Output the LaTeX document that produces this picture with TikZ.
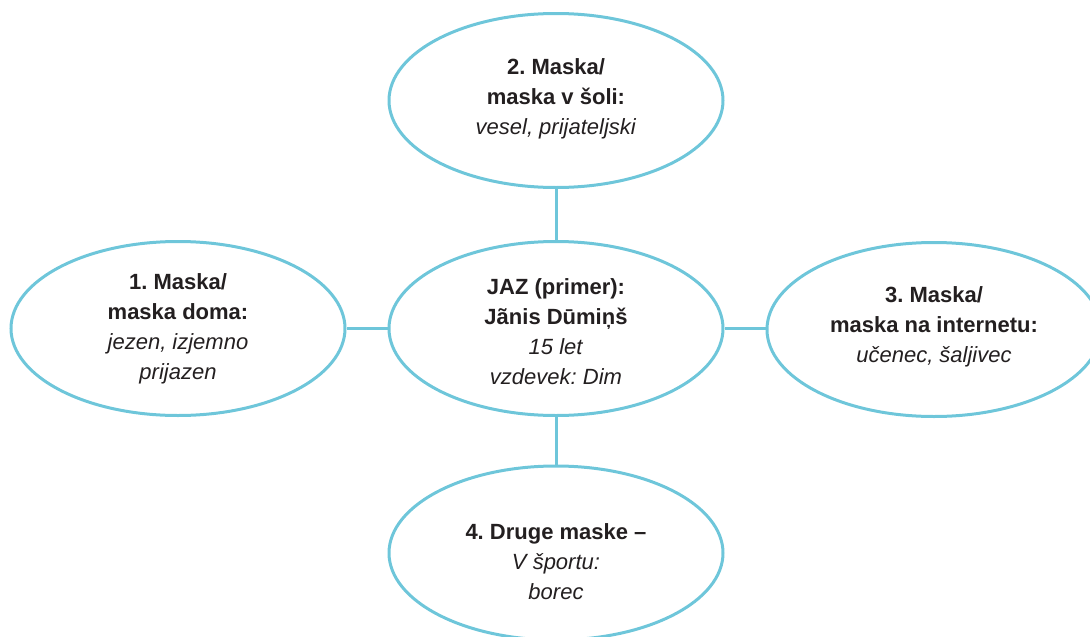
\documentclass[tikz,border=0pt]{standalone}
\usepackage{fontspec}
\setmainfont{Liberation Sans}
\usetikzlibrary{shapes.geometric}
\definecolor{ring}{RGB}{110,198,218}
\definecolor{ink}{RGB}{35,31,32}
\frenchspacing
\tikzset{
  bubble/.style={ellipse, draw=ring, line width=3pt, minimum width=334pt, minimum height=174pt, inner sep=0pt},
  conn/.style={draw=ring, line width=3pt},
  txt/.style={align=center, text=ink, font=\fontsize{22}{30}\selectfont\frenchspacing, inner sep=0pt},
}
\begin{document}
\begin{tikzpicture}[x=1pt,y=-1pt]
\useasboundingbox (0,0) rectangle (1090,637);
% ellipses
\node[bubble] (e0) at (556,328.5) {};
\node[bubble] (e1) at (178,328.5) {};
\node[bubble] (e2) at (556,100.5) {};
\node[bubble] (e3) at (934,329.5) {};
\node[bubble] (e4) at (556,553) {};
% connectors
\draw[conn] (e2.south) -- (e0.north);
\draw[conn] (e0.south) -- (e4.north);
\draw[conn] (e1.east) -- (e0.west);
\draw[conn] (e0.east) -- (e0.east -| e3.west);
% texts
\node[txt] (t0) at (556,332) {\textbf{JAZ (primer):}\\\textbf{Jãnis Dūmiņš}\\\textit{15 let}\\\textit{vzdevek: Dim}};
\node[txt] (t1) at (178,328.5) {\textbf{1. Maska/}\\\textbf{maska doma:}\\\textit{jezen, izjemno}\\\textit{prijazen}};
\node[txt] (t2) at (556,98.5) {\textbf{2. Maska/}\\\textbf{maska v šoli:}\\\textit{vesel, prijateljski}};
\node[txt] (t3) at (934,326.5) {\textbf{3. Maska/}\\\textbf{maska na internetu:}\\\textit{učenec, šaljivec}};
\node[txt] (t4) at (556,562) {\textbf{4. Druge maske –}\\\textit{V športu:}\\\textit{borec}};
\end{tikzpicture}
\end{document}
